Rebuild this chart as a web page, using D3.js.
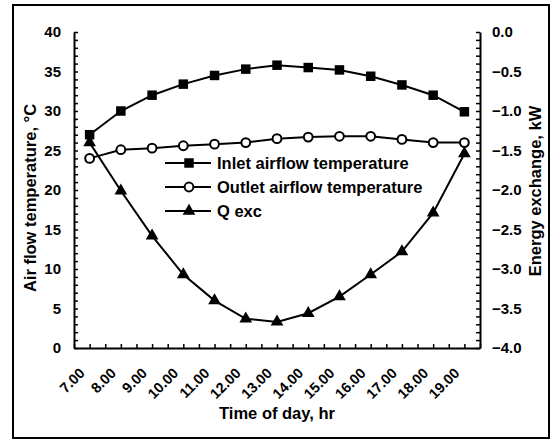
<!DOCTYPE html>
<html>
<head>
<meta charset="utf-8">
<script src="https://cdn.jsdelivr.net/npm/d3@7"></script>
<style>
  html, body { margin: 0; padding: 0; background: #fff; }
  svg { display: block; }
  text { font-family: "Liberation Sans", Arial, sans-serif; font-weight: bold; fill: #000; }
</style>
</head>
<body>
<svg id="chart" width="558" height="442"></svg>
<script>
// ---- data ----
const times = ["7.00","8.00","9.00","10.00","11.00","12.00","13.00","14.00","15.00","16.00","17.00","18.00","19.00"];
const inletTemp  = [27.0, 30.0, 32.0, 33.4, 34.5, 35.3, 35.8, 35.5, 35.2, 34.4, 33.3, 32.0, 29.9];
const outletTemp = [24.0, 25.1, 25.3, 25.6, 25.8, 26.0, 26.5, 26.7, 26.8, 26.8, 26.4, 26.0, 26.0];
const qExc       = [-1.40, -2.01, -2.58, -3.07, -3.40, -3.63, -3.67, -3.56, -3.35, -3.07, -2.78, -2.29, -1.54];
const leftTicks  = [0, 5, 10, 15, 20, 25, 30, 35, 40];
const rightTicks = [0.0, -0.5, -1.0, -1.5, -2.0, -2.5, -3.0, -3.5, -4.0];
const legendNames = ["Inlet airflow temperature", "Outlet airflow temperature", "Q exc"];

// ---- layout ----
const svg = d3.select("#chart");
const L = 74, R = 480, T = 32, B = 348;

svg.append("rect").attr("x", 13).attr("y", 5).attr("width", 536).attr("height", 433)
  .attr("fill", "#fff").attr("stroke", "#000").attr("stroke-width", 2);

const x = d3.scalePoint().domain(times).range([L, R]).padding(0.5);
const xIdx = d3.scaleLinear().domain([0, times.length]).range([L, R]);
const yL = d3.scaleLinear().domain([0, 40]).range([B, T]);
const yR = d3.scaleLinear().domain([-4, 0]).range([B, T]);

// x axis: ticks at every half category
const xTickVals = d3.range(0, times.length + 0.01, 0.5);
const gx = svg.append("g").attr("transform", `translate(0,${B})`)
  .call(d3.axisBottom(xIdx).tickValues(xTickVals).tickSizeInner(-4).tickSizeOuter(0).tickFormat(""));
gx.select(".domain").attr("stroke-width", 2);
gx.selectAll(".tick line").attr("stroke-width", 1.5);

// x labels rotated
svg.append("g").selectAll("text").data(times).join("text")
  .attr("transform", d => `translate(${x(d) - 4},${B + 26}) rotate(-45)`)
  .attr("text-anchor", "end")
  .attr("font-size", 14.5)
  .text(d => d);

// left axis
const gyMinor = svg.append("g").attr("transform", `translate(${L},0)`)
  .call(d3.axisLeft(yL).tickValues(d3.range(0, 41, 1)).tickSizeInner(-4).tickSizeOuter(0).tickFormat(""));
gyMinor.select(".domain").attr("stroke-width", 2);
gyMinor.selectAll(".tick line").attr("stroke-width", 1.5);
const gyL = svg.append("g").attr("transform", `translate(${L},0)`)
  .call(d3.axisLeft(yL).tickValues(leftTicks).tickSize(0).tickPadding(13).tickFormat(d3.format("d")));
gyL.select(".domain").remove();
gyL.selectAll("text").attr("font-size", 15).attr("font-family", "Liberation Sans, Arial, sans-serif").attr("font-weight", "bold");

// right axis
const gyRMinor = svg.append("g").attr("transform", `translate(${R},0)`)
  .call(d3.axisRight(yR).tickValues(d3.range(-40, 1, 1).map(v => v / 10)).tickSizeInner(-4).tickSizeOuter(0).tickFormat(""));
gyRMinor.select(".domain").attr("stroke-width", 2);
gyRMinor.selectAll(".tick line").attr("stroke-width", 1.5);
const gyR = svg.append("g").attr("transform", `translate(${R},0)`)
  .call(d3.axisRight(yR).tickValues(rightTicks).tickSize(0).tickPadding(12).tickFormat(d3.format(".1f")));
gyR.select(".domain").remove();
gyR.selectAll("text").attr("font-size", 15).attr("font-family", "Liberation Sans, Arial, sans-serif").attr("font-weight", "bold");

// axis titles
svg.append("text").attr("transform", `translate(36,198) rotate(-90)`)
  .attr("text-anchor", "middle").attr("font-size", 16.5).text("Air flow temperature, °C");
svg.append("text").attr("transform", `translate(541,191) rotate(-90)`)
  .attr("text-anchor", "middle").attr("font-size", 16.5).text("Energy exchange, kW");
svg.append("text").attr("x", 277).attr("y", 419)
  .attr("text-anchor", "middle").attr("font-size", 16.5).text("Time of day, hr");

// lines
const lineL = d3.line().x((d, i) => x(times[i])).y(d => yL(d));
const lineR = d3.line().x((d, i) => x(times[i])).y(d => yR(d));
const plot = svg.append("g");
plot.append("path").attr("d", lineL(inletTemp)).attr("fill", "none").attr("stroke", "#000").attr("stroke-width", 2);
plot.append("path").attr("d", lineL(outletTemp)).attr("fill", "none").attr("stroke", "#000").attr("stroke-width", 2);
plot.append("path").attr("d", lineR(qExc)).attr("fill", "none").attr("stroke", "#000").attr("stroke-width", 2);

const sq = d3.symbol().type(d3.symbolSquare).size(90);
const tri = d3.symbol().type(d3.symbolTriangle).size(70);

function squareAt(g, cx, cy) {
  g.append("path").attr("d", sq()).attr("transform", `translate(${cx},${cy})`).attr("fill", "#000");
}
function circleAt(g, cx, cy) {
  g.append("circle").attr("cx", cx).attr("cy", cy).attr("r", 4.4)
    .attr("fill", "#fff").attr("stroke", "#000").attr("stroke-width", 2);
}
function triAt(g, cx, cy) {
  g.append("path").attr("d", tri()).attr("transform", `translate(${cx},${cy})`).attr("fill", "#000");
}
inletTemp.forEach((v, i) => squareAt(plot, x(times[i]), yL(v)));
outletTemp.forEach((v, i) => circleAt(plot, x(times[i]), yL(v)));
qExc.forEach((v, i) => triAt(plot, x(times[i]), yR(v)));

// legend
const leg = svg.append("g");
const legY = [163, 187, 211];
const markers = [squareAt, circleAt, triAt];
legendNames.forEach((name, i) => {
  leg.append("line").attr("x1", 165).attr("x2", 211).attr("y1", legY[i]).attr("y2", legY[i])
    .attr("stroke", "#000").attr("stroke-width", 2);
  markers[i](leg, 189, legY[i]);
  leg.append("text").attr("x", 217).attr("y", legY[i]).attr("dy", "0.36em")
    .attr("font-size", 16.5).text(name);
});
</script>
</body>
</html>
